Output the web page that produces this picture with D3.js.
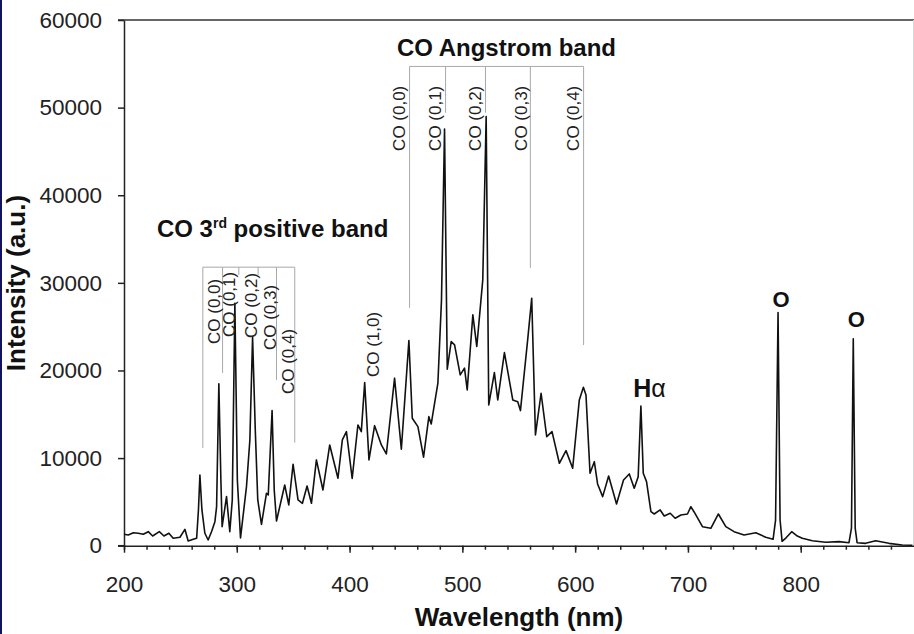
<!DOCTYPE html>
<html>
<head>
<meta charset="utf-8">
<script src="https://cdn.jsdelivr.net/npm/d3@7/dist/d3.min.js"></script>
<style>
  body { margin: 0; background: #fff; }
  svg { display: block; font-family: "Liberation Sans", Arial, sans-serif; }
</style>
</head>
<body>
<svg id="chart" width="914" height="634"></svg>
<script>
// spectrum: wavelength (nm) and intensity (a.u.)
const wavelength = [
  200, 203.8, 208.3, 212.7, 217.1, 221.5, 225.4, 231.3, 235.4, 239.8,
  243.6, 249.6, 254, 256.9, 261.4, 264.4, 266, 267.3, 269.1, 271.7,
  274.6, 277.6, 280.6, 282.1, 284.1, 285.9, 287, 290.9, 293.8, 296,
  298.3, 300.5, 303.3, 308.6, 311.6, 314, 316.4, 318.6, 321.9, 326.3,
  327.9, 331.3, 333.2, 335.2, 342.5, 346.1, 349.9, 354.3, 358.2, 362.3,
  366.2, 370.6, 376.4, 382.4, 389.7, 393.6, 397.2, 402.3, 407.4, 410.4,
  413.4, 417.2, 422.2, 428.2, 432.6, 439.9, 445.9, 452.6, 455.6, 460.6,
  465.6, 470.3, 472.4, 478.3, 481.5, 484.2, 486.6, 490.1, 493.1, 498.1,
  501.9, 504.3, 509.3, 512.8, 518.1, 521.1, 523.4, 528.4, 531.4, 537.3,
  544.7, 549.1, 551.5, 557.9, 561.5, 564.8, 569.8, 574.8, 579.5, 586,
  591.9, 597.8, 603.7, 607.3, 609.6, 613.2, 617, 619.9, 624.4, 629.7,
  636.7, 642.9, 648, 652.4, 655.9, 658.3, 660.4, 663.3, 667.2, 670.1,
  675.4, 679, 684.3, 688.7, 693.8, 699.6, 702.6, 705.5, 712.9, 720.3,
  727, 733.6, 740.9, 749.8, 760.2, 769, 775.5, 777.7, 779.9, 781.7,
  783.5, 787, 792, 797, 801.4, 810.3, 822.1, 833.9, 842.8, 845,
  846.6, 848.3, 850, 857.6, 866.4, 878.2, 890, 899
];
const intensity = [
  1300, 1220, 1480, 1420, 1300, 1600, 1110, 1600, 1110, 1420,
  850, 960, 1870, 540, 730, 850, 4080, 8070, 4080, 1420,
  650, 1600, 2740, 4450, 18470, 7500, 2170, 5600, 1600, 5220,
  27680, 7500, 880, 6740, 12070, 23800, 13210, 5220, 2440, 5980,
  5790, 15420, 6360, 2820, 6930, 4650, 9300, 5220, 4840, 6820,
  4840, 9790, 6360, 11500, 7700, 12070, 13020, 7670, 13780, 13020,
  18610, 9790, 13700, 11500, 10470, 19120, 11010, 23410, 14550, 13590,
  10100, 14730, 13900, 18550, 28060, 47550, 20140, 23300, 22920, 19490,
  20260, 17780, 26350, 22730, 30340, 48990, 16070, 19760, 16640, 22040,
  16640, 16440, 15420, 23490, 28250, 12640, 17400, 12450, 13020, 9410,
  10850, 8840, 16640, 18090, 17210, 8270, 9590, 7050, 5600, 7960,
  4760, 7500, 8190, 6560, 7880, 15950, 8270, 7310, 3880, 3620,
  4080, 3390, 3700, 3130, 3510, 3620, 4450, 3850, 2170, 1990,
  3620, 2170, 1600, 1220, 1480, 960, 730, 2930, 26610, 2930,
  500, 900, 1600, 1100, 850, 570, 390, 460, 340, 2000,
  23610, 2000, 340, 270, 570, 270, 80, 50
];

const xMajor = [200, 300, 400, 500, 600, 700, 800];
const xMinor = d3.range(200, 900, 20);
const yTicks = [0, 10000, 20000, 30000, 40000, 50000, 60000];

// CO 3rd positive band bracket: drop positions (nm) and where each drop ends
const thirdTop = 31790;
const thirdDrops = [269.9, 287.4, 301.8, 318.9, 335.2, 351.4];
const thirdEnds = [11160, 19720, 30900, 30900, 18920, 11760];
const thirdLabels = ["CO (0,0)", "CO (0,1)", "CO (0,2)", "CO (0,3)", "CO (0,4)", "CO (1,0)"];
const thirdLabelNm = [285.3, 298.3, 317.8, 334.6, 350.5, 425.8];
const thirdLabelTop = [30460, 31260, 31140, 29770, 24750, 26690];

// CO Angstrom band bracket
const angTop = 54700;
const angDrops = [453.2, 485.1, 520.5, 560.3, 607.5];
const angEnds = [27150, 49410, 49410, 31710, 22900];
const angLabels = ["CO (0,0)", "CO (0,1)", "CO (0,2)", "CO (0,3)", "CO (0,4)"];
const angLabelNm = [448.8, 480.7, 516.1, 557.7, 603.7];
const angLabelTop = 52500;

const svg = d3.select("#chart");
const x = d3.scaleLinear().domain([200, 900]).range([124, 913.5]);
const y = d3.scaleLinear().domain([0, 60000]).range([545.7, 20]);

// navy strip on the left edge and frame
svg.append("rect").attr("x", 0).attr("y", 0).attr("width", 2).attr("height", 634).attr("fill", "#12125e");
svg.append("line").attr("x1", 118).attr("x2", 914).attr("y1", y(60000)).attr("y2", y(60000))
  .attr("stroke", "#333").attr("stroke-width", 1.6);
svg.append("line").attr("x1", 913.5).attr("x2", 913.5).attr("y1", y(60000)).attr("y2", y(0))
  .attr("stroke", "#d8d8d8").attr("stroke-width", 1);

// axes
const xAxis = svg.append("g").attr("transform", `translate(0,${y(0)})`)
  .call(d3.axisBottom(x).tickValues(xMajor).tickSize(7).tickSizeOuter(0).tickPadding(23).tickFormat(d3.format("d")));
const xMinorAxis = svg.append("g").attr("transform", `translate(0,${y(0)})`)
  .call(d3.axisBottom(x).tickValues(xMinor).tickSize(4).tickSizeOuter(0).tickFormat(""));
xMinorAxis.select(".domain").remove();
const yAxis = svg.append("g").attr("transform", `translate(${x(200)},0)`)
  .call(d3.axisLeft(y).tickValues(yTicks).tickSize(6).tickSizeOuter(0).tickPadding(16).tickFormat(d3.format("d")));

svg.selectAll(".domain, .tick line").attr("stroke", "#222").attr("stroke-width", 1.5);
[xAxis, yAxis].forEach(g => g.attr("font-family", null).attr("font-size", null)
  .selectAll("text").attr("font-size", 22.5).attr("fill", "#222"));
// extend bottom axis to the left tick
svg.append("line").attr("x1", 118).attr("x2", x(200)).attr("y1", y(0)).attr("y2", y(0))
  .attr("stroke", "#222").attr("stroke-width", 1.5);

// axis titles
svg.append("text").attr("x", 519).attr("y", 626).attr("text-anchor", "middle")
  .attr("font-size", 26).attr("font-weight", "bold").attr("fill", "#111").text("Wavelength (nm)");
svg.append("text").attr("transform", "translate(25,283) rotate(-90)").attr("text-anchor", "middle")
  .attr("font-size", 26).attr("font-weight", "bold").attr("fill", "#111").text("Intensity (a.u.)");

// bracket lines
const grey = "#a8a8a8";
function bracket(top, drops, ends) {
  svg.append("line").attr("x1", x(drops[0])).attr("x2", x(drops[drops.length - 1]))
    .attr("y1", y(top)).attr("y2", y(top)).attr("stroke", grey).attr("stroke-width", 1);
  svg.selectAll(null).data(drops).enter().append("line")
    .attr("x1", d => x(d)).attr("x2", d => x(d))
    .attr("y1", y(top)).attr("y2", (d, i) => y(ends[i]))
    .attr("stroke", grey).attr("stroke-width", 1);
}
bracket(thirdTop, thirdDrops, thirdEnds);
bracket(angTop, angDrops, angEnds);

// spectrum
const pts = wavelength.map((w, i) => [w, intensity[i]]);
svg.append("path").datum(pts)
  .attr("d", d3.line().x(d => x(d[0])).y(d => y(d[1])))
  .attr("fill", "none").attr("stroke", "#111").attr("stroke-width", 1.6).attr("stroke-linejoin", "round");

// rotated band labels
function vlabels(texts, nms, tops) {
  svg.selectAll(null).data(texts).enter().append("text")
    .attr("transform", (d, i) => `translate(${x(nms[i])},${y(Array.isArray(tops) ? tops[i] : tops)}) rotate(-90)`)
    .attr("text-anchor", "end").attr("font-size", 17).attr("fill", "#222").text(d => d);
}
vlabels(thirdLabels, thirdLabelNm, thirdLabelTop);
vlabels(angLabels, angLabelNm, angLabelTop);

// band titles
const t3 = svg.append("text").attr("x", x(229.2)).attr("y", y(35250))
  .attr("font-size", 24).attr("font-weight", "bold").attr("fill", "#111");
t3.append("tspan").text("CO 3");
t3.append("tspan").attr("dy", -9).attr("font-size", 14).text("rd");
t3.append("tspan").attr("dy", 9).text(" positive band");
svg.append("text").attr("x", x(539.1)).attr("y", y(55840)).attr("text-anchor", "middle")
  .attr("font-size", 24).attr("font-weight", "bold").attr("fill", "#111").text("CO Angstrom band");

// line labels
const peakNames = ["O", "O"];
const peakNm = [782.6, 849.4];
const peakTop = [27260, 24980];
svg.selectAll(null).data(peakNames).enter().append("text")
  .attr("x", (d, i) => x(peakNm[i])).attr("y", (d, i) => y(peakTop[i]))
  .attr("text-anchor", "middle").attr("font-size", 22).attr("font-weight", "bold").attr("fill", "#111").text(d => d);
const ha = svg.append("text").attr("x", x(651.5)).attr("y", y(16980)).attr("font-size", 25).attr("fill", "#111");
ha.append("tspan").attr("font-weight", "bold").text("H");
ha.append("tspan").text("α");
</script>
</body>
</html>
